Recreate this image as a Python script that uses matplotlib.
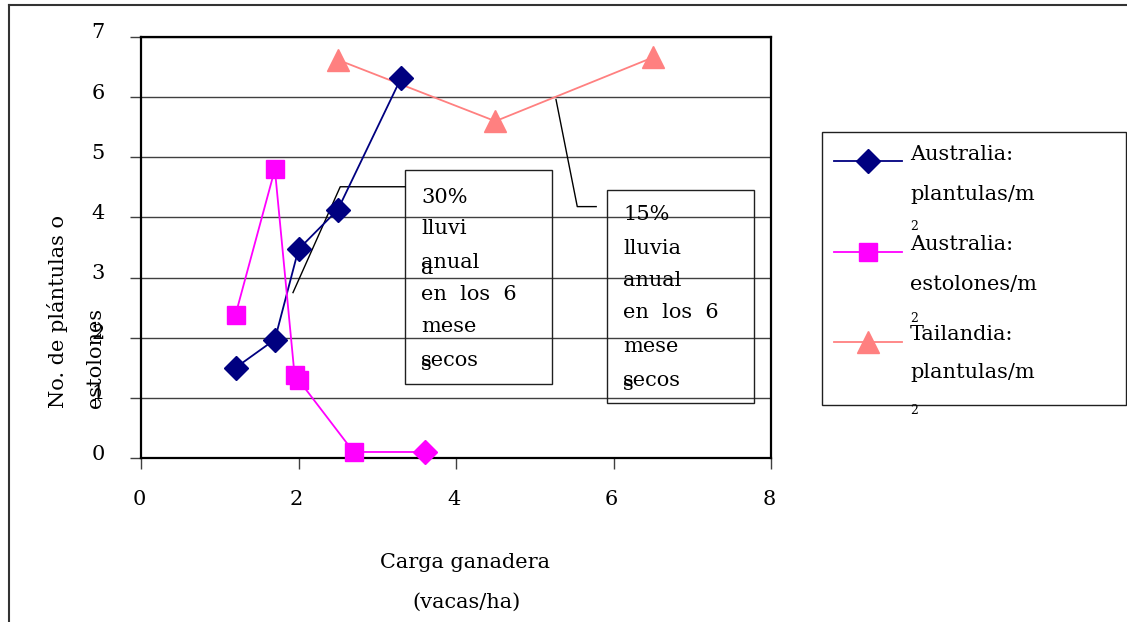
import matplotlib
matplotlib.use('Agg')
import matplotlib.pyplot as plt
from matplotlib.lines import Line2D
from matplotlib.patches import Rectangle
from matplotlib.transforms import ScaledTranslation

plt.rcParams['font.family'] = 'DejaVu Serif'
plt.rcParams['font.size'] = 15

# data
aus_pl_x = [1.2, 1.7, 2.0, 2.5, 3.3]
aus_pl_y = [1.5, 1.97, 3.47, 4.13, 6.31]
aus_es_x = [1.2, 1.7, 1.95, 2.0, 2.7, 3.6]
aus_es_y = [2.38, 4.8, 1.38, 1.3, 0.1, 0.1]
tai_x = [2.5, 4.5, 6.5]
tai_y = [6.62, 5.6, 6.66]

x_ticks = [0, 2, 4, 6, 8]
y_ticks = [0, 1, 2, 3, 4, 5, 6, 7]

legend_labels = [["Australia:", "plantulas/m"],
                 ["Australia:", "estolones/m"],
                 ["Tailandia:", "plantulas/m"]]
box1_lines = ["30%", "lluvi", "anual", "en  los  6", "mese", "secos"]
box2_lines = ["15%", "lluvia", "anual", "en  los  6", "mese", "secos"]

navy = '#000080'
magenta = '#FF00FF'
salmon = '#FF8080'

W, H = 1127, 622
fig = plt.figure(figsize=(W / 100, H / 100), dpi=100)


def px(x, y):
    # pixel position -> figure fraction
    return x / W, 1 - y / H


ax = fig.add_axes([141 / W, 1 - 458 / H, (771 - 141) / W, (458 - 37) / H])
ax.set_xlim(0, 8)
ax.set_ylim(0, 7)

ax.plot(tai_x, tai_y, color=salmon, lw=1.3, marker='^', ms=16,
        mec=salmon, zorder=3, clip_on=False)
ax.plot(aus_pl_x, aus_pl_y, color=navy, lw=1.3, marker='D', ms=12,
        mec=navy, zorder=4, clip_on=False)
ax.plot(aus_es_x, aus_es_y, color=magenta, lw=1.3, zorder=5)
ax.plot(aus_es_x[:-1], aus_es_y[:-1], 's', color=magenta, ms=13,
        mec=magenta, zorder=5, clip_on=False)
ax.plot(aus_es_x[-1:], aus_es_y[-1:], 'D', color=magenta, ms=12,
        mec=magenta, zorder=5, clip_on=False)

ax.set_xticks(x_ticks)
ax.set_yticks(y_ticks)
ax.yaxis.grid(True, color='#404040', lw=1)
ax.tick_params(axis='y', length=8, width=1, color='#404040', pad=18)
ax.tick_params(axis='x', length=8, width=1, color='#404040', pad=15)
for lab in ax.get_yticklabels():
    lab.set_transform(lab.get_transform() + ScaledTranslation(0, 0.06, fig.dpi_scale_trans))
for lab in ax.get_xticklabels():
    lab.set_transform(lab.get_transform() + ScaledTranslation(-0.02, 0, fig.dpi_scale_trans))
for s in ax.spines.values():
    s.set_linewidth(1.6)
    s.set_color('black')

# text boxes with leader lines
ax.add_patch(Rectangle((3.35, 1.23), 1.87, 3.56, fill=False, lw=1, ec='#202020', zorder=2))
ax.add_patch(Rectangle((5.92, 0.92), 1.86, 3.54, fill=False, lw=1, ec='#202020', zorder=2))
ax.plot([3.35, 2.53, 1.93], [4.51, 4.51, 2.75], color='black', lw=1, zorder=2)
ax.plot([5.78, 5.54, 5.27], [4.18, 4.18, 5.96], color='black', lw=1, zorder=2)

box1_y = [198, 228, 263, 295, 327, 360]
box2_y = [215, 248, 281, 313, 346, 380]
for t, y in zip(box1_lines, box1_y):
    fig.text(*px(421, y), t, va='center', ha='left')
for t, y in zip(box2_lines, box2_y):
    fig.text(*px(623, y), t, va='center', ha='left')
# overlapping wrap glyphs as in the original
fig.text(*px(421, 268), "a", va='center', ha='left')
fig.text(*px(421, 365), "s", va='center', ha='left')
fig.text(*px(623, 385), "s", va='center', ha='left')

# axis titles
fig.text(*px(58, 408), "No. de plántulas o", rotation=90, ha='center', va='bottom')
fig.text(*px(96, 408), "estolones", rotation=90, ha='center', va='bottom')
fig.text(*px(465, 563), "Carga ganadera", ha='center', va='center')
fig.text(*px(466, 602), "(vacas/ha)", ha='center', va='center')

# legend box drawn by hand
x0, y0 = px(822, 132)
x1, y1 = px(1126, 405)
fig.add_artist(Rectangle((x0, y1), x1 - x0, y0 - y1, transform=fig.transFigure,
                         fill=False, lw=1, ec='#202020'))
handles = [(navy, 'D', 12, 161), (magenta, 's', 13, 252), (salmon, '^', 16, 342)]
label_y = [(154, 194, 227), (244, 285, 318), (335, 373, 410)]
for (c, m, ms, hy), labs, ys in zip(handles, legend_labels, label_y):
    lx0, ly = px(834, hy)
    lx1, _ = px(902, hy)
    fig.add_artist(Line2D([lx0, lx1], [ly, ly], transform=fig.transFigure,
                          color=c, lw=1.3))
    fig.add_artist(Line2D([(lx0 + lx1) / 2], [ly], transform=fig.transFigure,
                          color=c, marker=m, ms=ms, mec=c, lw=0))
    fig.text(*px(910, ys[0]), labs[0], va='center', ha='left')
    fig.text(*px(910, ys[1]), labs[1], va='center', ha='left')
    fig.text(*px(910, ys[2]), "2", va='center', ha='left', fontsize=9)

# outer frame
fig.add_artist(Line2D([9 / W, 1], [1 - 5 / H, 1 - 5 / H], transform=fig.transFigure,
                      color='#333333', lw=1.5))
fig.add_artist(Line2D([9 / W, 9 / W], [0, 1 - 5 / H], transform=fig.transFigure,
                      color='#333333', lw=1.5))

fig.savefig('out.png', dpi=100)
